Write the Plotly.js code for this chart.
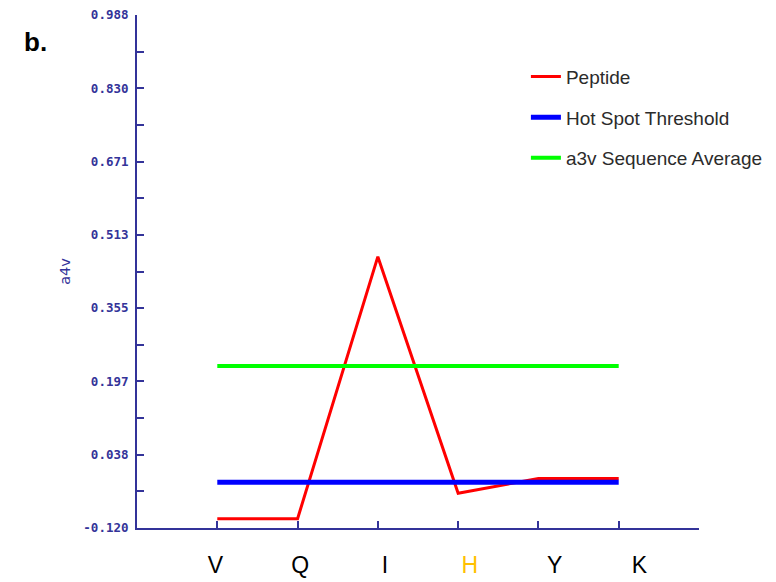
<!DOCTYPE html>
<html>
<head>
<meta charset="utf-8">
<script src="https://cdn.plot.ly/plotly-3.0.1.min.js"></script>
<style>html,body{margin:0;padding:0;background:#fff;}#chart{width:776px;height:582px;}</style>
</head>
<body>
<div id="chart"></div>
<script>
// ---- data ----
const residues = ['V', 'Q', 'I', 'H', 'Y', 'K'];
const residueColors = ['#000000', '#000000', '#000000', '#FFC000', '#000000', '#000000'];
const peptide = [-0.100, -0.100, 0.466, -0.045, -0.013, -0.013];
const hotSpotThreshold = [-0.021, -0.021, -0.021, -0.021, -0.021, -0.021];
const a3vAverage = [0.230, 0.230, 0.230, 0.230, 0.230, 0.230];
const yTickValues = [-0.120, 0.038, 0.197, 0.355, 0.513, 0.671, 0.830, 0.988];
const yTickLabels = ['-0.120', '0.038', '0.197', '0.355', '0.513', '0.671', '0.830', '0.988'];

const idx = residues.map((_, i) => i);
const axisColor = '#333399';

const traces = [
  {x: idx, y: peptide, mode: 'lines', name: 'Peptide', legendgroup: 'a',
   line: {color: '#FF0000', width: 3}},
  {x: idx, y: hotSpotThreshold, mode: 'lines', name: 'Hot Spot Threshold', legendgroup: 'b',
   line: {color: '#0000FF', width: 5}},
  {x: idx, y: a3vAverage, mode: 'lines', name: 'a3v Sequence Average', legendgroup: 'c',
   line: {color: '#00FF00', width: 4}},
  // carrier for the residue-label axis (invisible)
  {x: idx, y: peptide, xaxis: 'x2', yaxis: 'y', mode: 'lines', showlegend: false,
   hoverinfo: 'skip', opacity: 0, line: {width: 0}}
];

const layout = {
  width: 776, height: 582,
  margin: {l: 137, r: 77, t: 15, b: 54, autoexpand: false},
  paper_bgcolor: '#ffffff', plot_bgcolor: '#ffffff',
  showlegend: true,
  legend: {x: 0.692, y: 0.917, xanchor: 'left', yanchor: 'top',
    traceorder: 'grouped', tracegroupgap: 13,
    font: {family: 'Liberation Sans, Arial, sans-serif', size: 19, color: '#2b2b2b'},
    bgcolor: 'rgba(0,0,0,0)'},
  xaxis: {range: [-1, 6], tickvals: idx, ticktext: idx.map(() => ''),
    showticklabels: false, ticks: 'inside', ticklen: 7, tickwidth: 2, tickcolor: axisColor,
    showline: true, linecolor: axisColor, linewidth: 2, showgrid: false, zeroline: false,
    automargin: false, fixedrange: true},
  xaxis2: {overlaying: 'x', side: 'bottom', range: [-0.926, 5.704], tickvals: idx,
    ticktext: residues.map((r, i) => '<span style="color:' + residueColors[i] + '">' + r + '</span>'),
    ticks: '', showline: false, showgrid: false, zeroline: false, ticklabelstandoff: 21,
    automargin: false,
    tickfont: {family: 'Liberation Sans, Arial, sans-serif', size: 23, color: '#000000'}},
  yaxis: {range: [-0.120, 0.988], tickvals: yTickValues, ticktext: yTickLabels,
    ticks: 'inside', ticklen: 7, tickwidth: 2, tickcolor: axisColor,
    minor: {ticks: 'inside', ticklen: 7, tickwidth: 2, tickcolor: axisColor, tick0: -0.120, dtick: 0.0791429},
    showline: true, linecolor: axisColor, linewidth: 2, showgrid: false, zeroline: false,
    ticklabelstandoff: 4, automargin: false,
    tickfont: {family: 'DejaVu Sans Mono, monospace', size: 12.5, color: axisColor, weight: 'bold'},
    title: {text: 'a4v', standoff: 9, font: {family: 'DejaVu Sans, sans-serif', size: 14.5, color: axisColor}}},
  annotations: [
    {text: 'b.', xref: 'paper', yref: 'paper', x: -0.2045, y: 0.947, xanchor: 'left', yanchor: 'middle',
     showarrow: false, font: {family: 'Liberation Sans, Arial, sans-serif', size: 26, color: '#000000', weight: 'bold'}}
  ]
};

Plotly.newPlot('chart', traces, layout, {staticPlot: true, displayModeBar: false});
</script>
</body>
</html>
